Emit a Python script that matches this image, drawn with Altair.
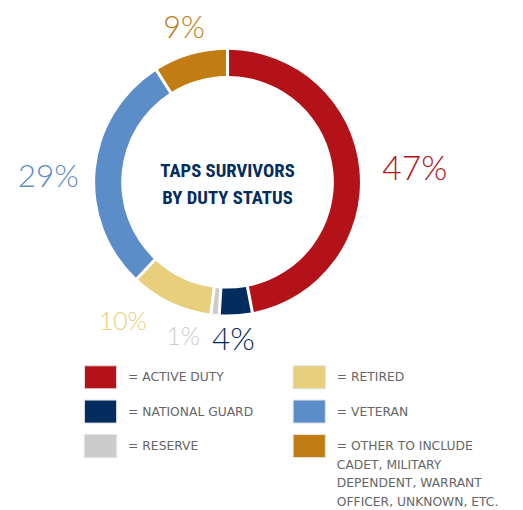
import math
import altair as alt
import pandas as pd

# ---- data ----
categories = ["Active Duty", "National Guard", "Reserve", "Retired", "Veteran", "Other"]
values = [47, 4, 1, 10, 29, 9]
colors = ["#B31218", "#032C5F", "#CCCCCC", "#E8CF7E", "#5B8DC8", "#C17C14"]
legend_labels = {
    "Active Duty": "= ACTIVE DUTY",
    "National Guard": "= NATIONAL GUARD",
    "Reserve": "= RESERVE",
    "Retired": "= RETIRED",
    "Veteran": "= VETERAN",
    "Other": ["= OTHER TO INCLUDE", "CADET, MILITARY", "DEPENDENT, WARRANT", "OFFICER, UNKNOWN, ETC."],
}
center_title = ["TAPS SURVIVORS", "BY DUTY STATUS"]

# label styling: radius, dx, dy, font size
label_style = {
    "Active Duty": (184, 7, 5, 34),
    "National Guard": (159, -4, 2, 32),
    "Reserve": (160, -30, -2, 25),
    "Retired": (170, -34, -12, 25),
    "Veteran": (182, -1, 12, 32),
    "Other": (162, 1, 0, 31),
}

df = pd.DataFrame({"category": categories, "value": values})
color_of = dict(zip(categories, colors))

W, H = 446, 346

label_expr_parts = []
for k, v in legend_labels.items():
    if isinstance(v, list):
        lit = "[" + ", ".join("'" + s + "'" for s in v) + "]"
    else:
        lit = "'" + v + "'"
    label_expr_parts.append((k, lit))
label_expr = ""
for k, lit in label_expr_parts[:-1]:
    label_expr += f"datum.label == '{k}' ? {lit} : "
label_expr += label_expr_parts[-1][1]

base = alt.Chart(df).transform_window(idx="row_number()")

ring = base.mark_arc(innerRadius=108, outerRadius=134.5, padAngle=0.018).encode(
    theta=alt.Theta("value:Q", stack=True),
    order=alt.Order("idx:Q"),
    color=alt.Color(
        "category:N",
        scale=alt.Scale(domain=categories, range=colors),
        legend=alt.Legend(
            orient="none",
            legendX=77,
            legendY=354,
            columns=2,
            title=None,
            symbolType="M-1,-0.715H1V0.715H-1Z",
            symbolSize=1069,
            symbolOpacity=1,
            symbolStrokeColor="#e2e2e2",
            symbolStrokeWidth=1,
            labelFont="DejaVu Sans",
            labelFontSize=12.5,
            labelColor="#666666",
            labelOffset=11,
            labelLimit=300,
            rowPadding=4,
            columnPadding=37,
            labelExpr=label_expr,
        ),
    ),
)

layers = [ring]
for cat in categories:
    r, dx, dy, fs = label_style[cat]
    lab = (
        alt.Chart(df)
        .transform_window(cum="sum(value)")
        .transform_calculate(mid="datum.cum - datum.value / 2", label="datum.value + '%'")
        .transform_filter(alt.datum.category == cat)
        .mark_text(
            radius=r, dx=dx, dy=dy, fontSize=fs, font="Lato", fontWeight=300,
            color=color_of[cat], align="center", baseline="middle",
        )
        .encode(
            theta=alt.Theta("mid:Q", scale=alt.Scale(domain=[0, 100], range=[0, 2 * math.pi])),
            text="label:N",
        )
    )
    layers.append(lab)

title = alt.Chart(pd.DataFrame({"t": [0]})).mark_text(
    font="Roboto Condensed, Roboto",
    fontSize=19,
    fontWeight="bold",
    color="#032C5F",
    lineHeight=27,
    align="center",
    baseline="middle",
    dy=-11,
).encode(text=alt.value(center_title))
layers.append(title)

chart = (
    alt.layer(*layers)
    .resolve_scale(theta="independent")
    .properties(
        width=W,
        height=H,
        padding={"left": 0, "top": 0, "right": 69, "bottom": 156},
        autosize=alt.AutoSizeParams(type="none"),
    )
    .configure_view(stroke=None)
    .configure(style={"guide-label": {"lineHeight": 19}})
)

chart.save("out.html", embed_options={"renderer": "svg", "actions": False})
